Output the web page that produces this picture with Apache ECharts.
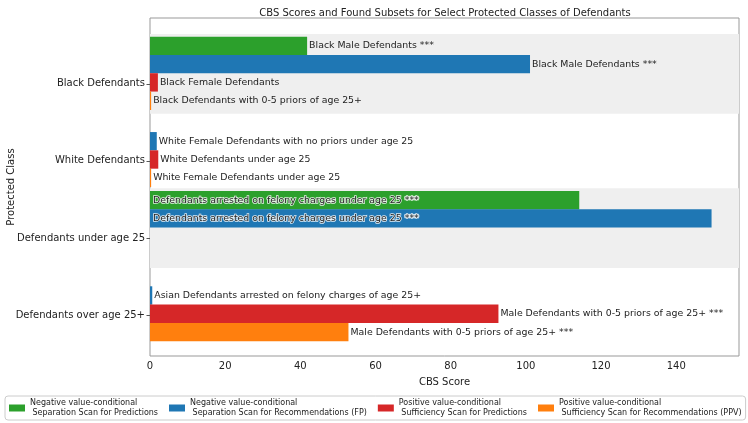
<!DOCTYPE html>
<html>
<head>
<meta charset="utf-8">
<script src="https://cdn.jsdelivr.net/npm/echarts@6/dist/echarts.min.js"></script>
<style>html,body{margin:0;padding:0;background:#fff}#c{width:748px;height:423px}</style>
</head>
<body>
<div id="c"></div>
<script>
// ---- data ----
const categories = ['Black Defendants', 'White Defendants', 'Defendants under age 25', 'Defendants over age 25+'];
const seriesNames = [
  'Negative value-conditional\n Separation Scan for Predictions',
  'Negative value-conditional\n Separation Scan for Recommendations (FP)',
  'Positive value-conditional\n Sufficiency Scan for Predictions',
  'Positive value-conditional\n Sufficiency Scan for Recommendations (PPV)'
];
const greenValues  = [41.8, null, 114.2, null];
const greenLabels  = ['Black Male Defendants ***', '', 'Defendants arrested on felony charges under age 25 ***', ''];
const blueValues   = [101.1, 1.8, 149.4, 0.6];
const blueLabels   = ['Black Male Defendants ***', 'White Female Defendants with no priors under age 25', 'Defendants arrested on felony charges under age 25 ***', 'Asian Defendants arrested on felony charges of age 25+'];
const redValues    = [2.1, 2.2, null, 92.7];
const redLabels    = ['Black Female Defendants', 'White Defendants under age 25', '', 'Male Defendants with 0-5 priors of age 25+ ***'];
const orangeValues = [0.3, 0.3, null, 52.8];
const orangeLabels = ['Black Defendants with 0-5 priors of age 25+', 'White Female Defendants under age 25', '', 'Male Defendants with 0-5 priors of age 25+ ***'];
const xTicks = [0, 20, 40, 60, 80, 100, 120, 140];
const shadedRows = [0, 2];
const insideLabelRows = [2];

// ---- layout constants ----
const colors = ['#2ca02c', '#1f77b4', '#d62728', '#ff7f0e'];
const barOffsets = [-0.49, -0.255, -0.018, 0.22];
const barThickness = 0.238;
const bandTop = -0.645, bandBottom = 0.39;
const FONT = 'DejaVu Sans';

function barSeries(k, values, labels) {
  const data = [];
  values.forEach((v, i) => { if (v != null) data.push([v, i + barOffsets[k], i]); });
  return {
    name: seriesNames[k],
    type: 'custom',
    z: 3,
    itemStyle: { color: colors[k] },
    encode: { x: 0, y: 1 },
    data: data,
    renderItem: function (params, api) {
      const v = api.value(0), y = api.value(1), idx = api.value(2);
      const p0 = api.coord([0, y]);
      const p1 = api.coord([v, y]);
      const h = api.size([0, barThickness])[1];
      const inside = insideLabelRows.indexOf(idx) >= 0;
      return {
        type: 'rect',
        shape: { x: p0[0], y: p0[1] - h / 2, width: p1[0] - p0[0], height: h },
        style: { fill: colors[k] },
        textContent: {
          style: {
            text: labels[idx], fill: '#222', fontSize: 9.4, fontFamily: FONT,
            stroke: inside ? 'rgba(255,255,255,0.85)' : null, lineWidth: inside ? 1.6 : 0
          }
        },
        textConfig: { position: inside ? 'insideLeft' : 'right', distance: inside ? 3 : 2, inside: inside }
      };
    }
  };
}

const bandSeries = {
  type: 'custom',
  silent: true,
  z: 1,
  encode: { y: 0 },
  data: shadedRows.map(r => [r]),
  renderItem: function (params, api) {
    const r = api.value(0);
    const a = api.coord([0, r + bandTop]);
    const b = api.coord([0, r + bandBottom]);
    const cs = params.coordSys;
    return { type: 'rect', shape: { x: cs.x, y: a[1], width: cs.width, height: b[1] - a[1] }, style: { fill: '#efefef' } };
  }
};

const chart = echarts.init(document.getElementById('c'), null, { renderer: 'canvas' });
chart.setOption({
  animation: false,
  textStyle: { fontFamily: FONT },
  title: {
    text: 'CBS Scores and Found Subsets for Select Protected Classes of Defendants',
    left: 440, textAlign: 'center', top: 3,
    textStyle: { fontSize: 10, fontWeight: 'normal', color: '#222', fontFamily: FONT }
  },
  legend: {
    data: seriesNames,
    left: 5, top: 396,
    orient: 'horizontal',
    icon: 'rect', itemWidth: 16, itemHeight: 7, itemGap: 11,
    textStyle: { fontSize: 8, lineHeight: 10, color: '#222', fontFamily: FONT },
    borderColor: '#ccc', borderWidth: 1, borderRadius: 3, padding: [2, 4],
    backgroundColor: '#fff'
  },
  grid: { left: 150, right: 9, top: 18, bottom: 67, containLabel: false, outerBoundsMode: 'none',
    show: true, borderColor: '#999', borderWidth: 1, backgroundColor: 'transparent' },
  xAxis: {
    type: 'value', min: 0, max: 156.7, interval: 20,
    name: 'CBS Score', nameLocation: 'middle', nameGap: 21, nameMoveOverlap: false,
    nameTextStyle: { fontSize: 10, color: '#222', fontFamily: FONT },
    axisLine: { show: false },
    axisTick: { show: true, length: 3.5, lineStyle: { color: '#555' }, customValues: xTicks },
    axisLabel: { fontSize: 10, color: '#222', margin: 5, customValues: xTicks, fontFamily: FONT },
    splitLine: { show: false }
  },
  yAxis: {
    type: 'value', inverse: true, min: -0.853, max: 3.53,
    name: 'Protected Class', nameLocation: 'middle', nameGap: 134, nameMoveOverlap: false,
    nameTextStyle: { fontSize: 10, color: '#222', fontFamily: FONT },
    axisLine: { show: false },
    axisTick: { show: true, length: 3.5, lineStyle: { color: '#555' }, customValues: [0, 1, 2, 3] },
    axisLabel: { fontSize: 10, color: '#222', margin: 5, customValues: [0, 1, 2, 3], fontFamily: FONT,
      formatter: v => categories[Math.round(v)] },
    splitLine: { show: false }
  },
  series: [
    bandSeries,
    barSeries(0, greenValues, greenLabels),
    barSeries(1, blueValues, blueLabels),
    barSeries(2, redValues, redLabels),
    barSeries(3, orangeValues, orangeLabels)
  ]
});
</script>
</body>
</html>
